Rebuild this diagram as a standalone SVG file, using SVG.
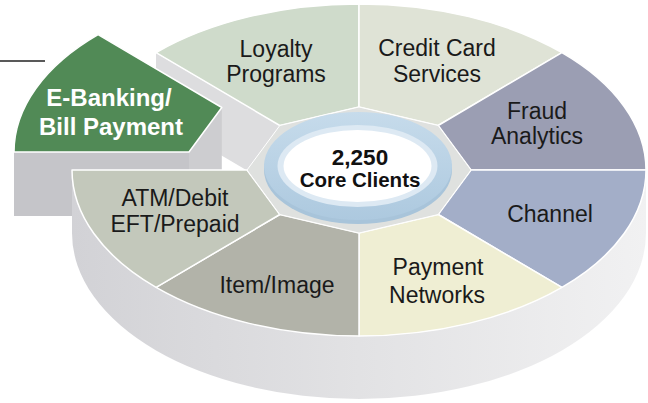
<svg xmlns="http://www.w3.org/2000/svg" width="648" height="403" viewBox="0 0 648 403">
<defs>
<linearGradient id="sideGrad" x1="0" y1="0" x2="1" y2="0">
<stop offset="0" stop-color="#d2d2d6"/>
<stop offset="0.5" stop-color="#e2e2e4"/>
<stop offset="1" stop-color="#f1f1f2"/>
</linearGradient>
<linearGradient id="ringGrad" x1="0" y1="0" x2="0" y2="1">
<stop offset="0" stop-color="#c6dbeb"/>
<stop offset="1" stop-color="#adc9df"/>
</linearGradient>
</defs>
<style>
.seg{stroke:#ffffff;stroke-width:1.5;stroke-linejoin:round}
.lbl{font-family:"Liberation Sans",Arial,sans-serif;font-size:23px;fill:#1a1a1a;text-anchor:middle}
.lblw{font-family:"Liberation Sans",Arial,sans-serif;font-size:24px;font-weight:bold;fill:#ffffff;text-anchor:middle}
.ctr{font-family:"Liberation Sans",Arial,sans-serif;font-weight:bold;fill:#111111;text-anchor:middle}
</style>
<rect width="648" height="403" fill="#ffffff"/>

<g id="connectors">
<line x1="0" y1="61" x2="45" y2="61" stroke="#222222" stroke-width="1.5"/>
</g>

<g id="cut-face">
<polygon points="156,53 280,125.5 280,190 156,117" fill="#dddddf"/>
</g>

<g id="seg-ebanking">
<polygon points="14,152 189,152 189,216 14,216" fill="#c5c5c9"/>
<polygon points="189,152 221.8,107.5 221.8,171 189,216" fill="#cdcdd0"/>
<path class="seg" d="M189,152 L14,152 A287,166 0 0 1 98.1,34.6 L221.8,107.5 Z" fill="#518a56"/>
<text class="lblw" x="109" y="106">E-Banking/</text>
<text class="lblw" x="111" y="135">Bill Payment</text>
</g>

<g id="disc-side">
<path d="M72,170 A287,166 0 0 0 646,170 L646,233 A287,166 0 0 1 72,233 Z" fill="url(#sideGrad)"/>
</g>

<g id="seg-loyalty">
<path class="seg" d="M279.8,125.5 L156.1,52.6 A287,166 0 0 1 359,4 L359,107 Z" fill="#cfdbcb"/>
<text class="lbl" x="276" y="57">Loyalty</text>
<text class="lbl" x="276" y="82">Programs</text>
</g>

<g id="seg-credit">
<path class="seg" d="M359,107 L359,4 A287,166 0 0 1 561.9,52.6 L438.2,125.5 Z" fill="#dfe3d6"/>
<text class="lbl" x="437" y="56">Credit Card</text>
<text class="lbl" x="437" y="82">Services</text>
</g>

<g id="seg-fraud">
<path class="seg" d="M438.2,125.5 L561.9,52.6 A287,166 0 0 1 646,170 L471,170 Z" fill="#9b9eb3"/>
<text class="lbl" x="537" y="119">Fraud</text>
<text class="lbl" x="537" y="144">Analytics</text>
</g>

<g id="seg-channel">
<path class="seg" d="M471,170 L646,170 A287,166 0 0 1 561.9,287.4 L438.2,214.5 Z" fill="#a3aec8"/>
<text class="lbl" x="550" y="222">Channel</text>
</g>

<g id="seg-payment">
<path class="seg" d="M438.2,214.5 L561.9,287.4 A287,166 0 0 1 359,336 L359,233 Z" fill="#efeed3"/>
<text class="lbl" x="438" y="275">Payment</text>
<text class="lbl" x="437" y="303">Networks</text>
</g>

<g id="seg-item">
<path class="seg" d="M359,233 L359,336 A287,166 0 0 1 156.1,287.4 L279.8,214.5 Z" fill="#b2b3a9"/>
<text class="lbl" x="277" y="293">Item/Image</text>
</g>

<g id="seg-atm">
<path class="seg" d="M279.8,214.5 L156.1,287.4 A287,166 0 0 1 72,170 L247,170 Z" fill="#c3c8bb"/>
<text class="lbl" x="175" y="206">ATM/Debit</text>
<text class="lbl" x="175" y="232">EFT/Prepaid</text>
</g>

<g id="hub">
<polygon points="359,107 438.2,125.5 471,170 438.2,214.5 359,233 279.8,214.5 247,170 279.8,125.5" fill="#dfe1df" stroke="#ffffff" stroke-width="1"/>
<ellipse cx="358" cy="170" rx="94" ry="54" fill="#a8c4da"/>
<ellipse cx="358" cy="166" rx="94" ry="54" fill="url(#ringGrad)"/>
<ellipse cx="357.5" cy="166" rx="80" ry="41" fill="#dde9f3"/>
<ellipse cx="357.5" cy="166" rx="74" ry="36" fill="#ffffff"/>
<text class="ctr" x="360" y="165" font-size="22.5">2,250</text>
<text class="ctr" x="360" y="187" font-size="20.5">Core Clients</text>
</g>
</svg>
